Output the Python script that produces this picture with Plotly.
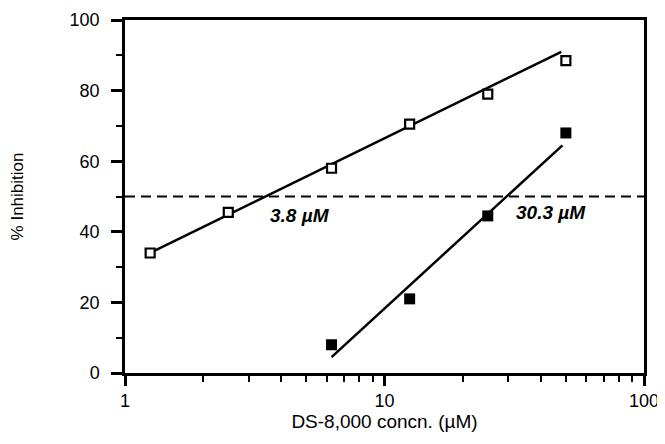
import math
import plotly.graph_objects as go

# Data
conc_open = [1.25, 2.5, 6.25, 12.5, 25, 50]
inhib_open = [34, 45.5, 58, 70.5, 79, 88.5]
conc_filled = [6.25, 12.5, 25, 50]
inhib_filled = [8, 21, 44.5, 68]
fit_open_x = [1.25, 48]
fit_open_y = [34, 91]
fit_filled_x = [6.25, 48.5]
fit_filled_y = [4.5, 64.5]
ref_level = 50
ic50_labels = ["3.8 \u00b5M", "30.3 \u00b5M"]
ic50_label_x = [4.72, 43.8]
ic50_label_y = [44.5, 45.5]

FONT = "Liberation Sans, Arial, Helvetica, sans-serif"

fig = go.Figure()
fig.add_trace(go.Scatter(x=[1, 100], y=[ref_level, ref_level], mode="lines",
                         line=dict(color="black", width=2.2, dash="10px,6px"),
                         showlegend=False, cliponaxis=False))
fig.add_trace(go.Scatter(x=fit_open_x, y=fit_open_y, mode="lines",
                         line=dict(color="black", width=2.5), showlegend=False))
fig.add_trace(go.Scatter(x=fit_filled_x, y=fit_filled_y, mode="lines",
                         line=dict(color="black", width=2.5), showlegend=False))
fig.add_trace(go.Scatter(x=conc_open, y=inhib_open, mode="markers",
                         marker=dict(symbol="square", size=9, color="white",
                                     line=dict(color="black", width=2.2)),
                         showlegend=False))
fig.add_trace(go.Scatter(x=conc_filled, y=inhib_filled, mode="markers",
                         marker=dict(symbol="square", size=11, color="black",
                                     line=dict(color="black", width=0)),
                         showlegend=False))

for t, x, y in zip(ic50_labels, ic50_label_x, ic50_label_y):
    fig.add_annotation(x=math.log10(x), y=y, xref="x", yref="y", text="<b><i>" + t + "</i></b>",
                       showarrow=False, font=dict(family=FONT, size=19, color="black"))

fig.update_xaxes(type="log", range=[0, 2], showline=True, linecolor="black", linewidth=2.5,
                 mirror=True, ticks="outside", ticklen=10, tickwidth=2.5, tickcolor="black",
                 tickvals=[1, 10, 100], ticktext=["1", "10", "100"], automargin=False,
                 minor=dict(ticks="outside", ticklen=6, tickwidth=2, tickcolor="black",
                            tickvals=[2, 3, 4, 5, 6, 7, 8, 9, 20, 30, 40, 50, 60, 70, 80, 90],
                            showgrid=False),
                 showgrid=False, zeroline=False,
                 tickfont=dict(family=FONT, size=18, color="black"),
                 title=dict(text="DS-8,000 concn. (\u00b5M)", standoff=3,
                            font=dict(family=FONT, size=19, color="black")))
fig.update_yaxes(range=[0, 100], showline=True, linecolor="black", linewidth=2.5,
                 mirror=True, ticks="outside", ticklen=11, tickwidth=2.5, tickcolor="black",
                 tickvals=[0, 20, 40, 60, 80, 100], automargin=False, ticklabelstandoff=8,
                 minor=dict(ticks="outside", ticklen=6, tickwidth=2, tickcolor="black",
                            tickvals=[10, 30, 50, 70, 90], showgrid=False),
                 showgrid=False, zeroline=False,
                 tickfont=dict(family=FONT, size=18, color="black"),
                 title=dict(text="% Inhibition", standoff=48,
                            font=dict(family=FONT, size=17, color="black")))

fig.update_layout(width=657, height=436, margin=dict(l=117, r=21, t=12, b=71),
                  plot_bgcolor="white", paper_bgcolor="white", showlegend=False)

fig.write_html("out.html")
